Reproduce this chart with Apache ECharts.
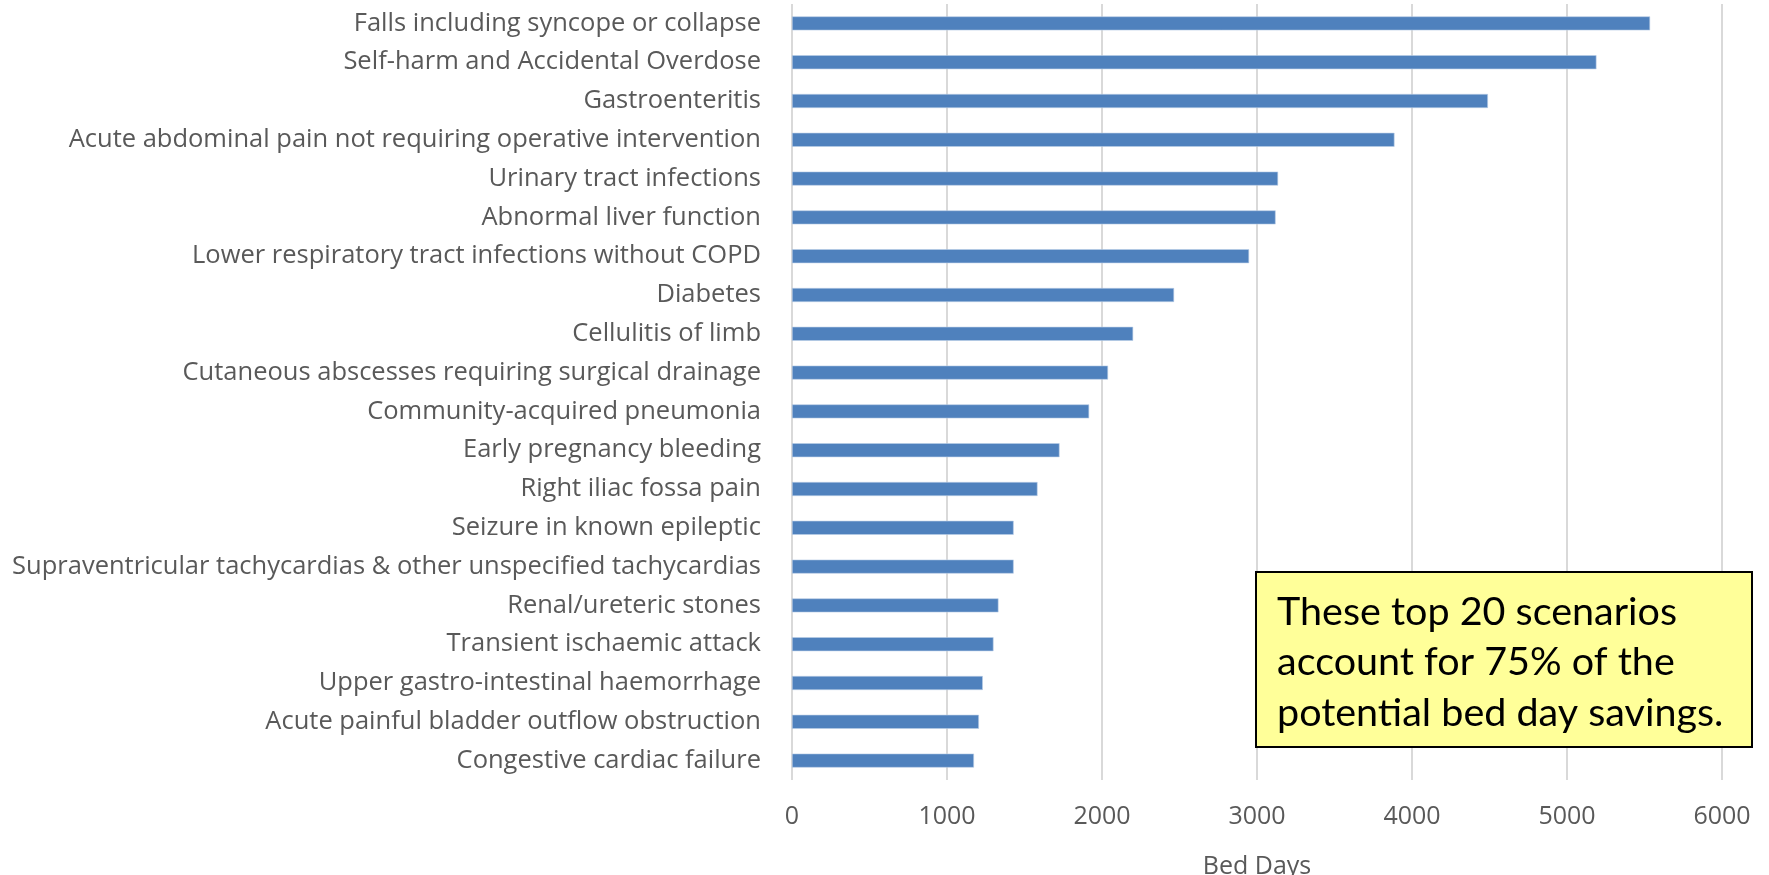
<!DOCTYPE html>
<html>
<head>
<meta charset="utf-8">
<title>Potential bed day savings by scenario</title>
<script src="https://cdn.jsdelivr.net/npm/echarts@6/dist/echarts.min.js"></script>
<style>
  html, body { margin: 0; padding: 0; background: #ffffff; }
  #chart { width: 1769px; height: 875px; }
</style>
</head>
<body>
<div id="chart"></div>
<script>
// Scenarios, listed from largest to smallest saving
const scenarios = [
  'Falls including syncope or collapse',
  'Self-harm and Accidental Overdose',
  'Gastroenteritis',
  'Acute abdominal pain not requiring operative intervention',
  'Urinary tract infections',
  'Abnormal liver function',
  'Lower respiratory tract infections without COPD',
  'Diabetes',
  'Cellulitis of limb',
  'Cutaneous abscesses requiring surgical drainage',
  'Community-acquired pneumonia',
  'Early pregnancy bleeding',
  'Right iliac fossa pain',
  'Seizure in known epileptic',
  'Supraventricular tachycardias & other unspecified tachycardias',
  'Renal/ureteric stones',
  'Transient ischaemic attack',
  'Upper gastro-intestinal haemorrhage',
  'Acute painful bladder outflow obstruction',
  'Congestive cardiac failure'
];

// Potential bed days saved per scenario
const bedDays = [
  5536, 5190, 4490, 3887, 3136, 3120, 2949, 2465, 2201, 2039,
  1917, 1726, 1584, 1430, 1430, 1332, 1300, 1231, 1206, 1174
];

// Value axis ticks
const axisMin = 0;
const axisMax = 6000;
const axisStep = 1000;

const axisTitle = 'Bed Days';
const noteLines = [
  'These top 20 scenarios',
  'account for 75% of the',
  'potential bed day savings.'
];

const labelFont = '"Open Sans", "DejaVu Sans", sans-serif';
const greyText = '#595959';

const chart = echarts.init(document.getElementById('chart'), null, { renderer: 'canvas' });

chart.setOption({
  animation: false,
  backgroundColor: '#ffffff',
  grid: {
    left: 792,
    right: 47,
    top: 4,
    bottom: 95,
    containLabel: false,
    outerBoundsMode: 'none'
  },
  xAxis: {
    type: 'value',
    min: axisMin,
    max: axisMax,
    interval: axisStep,
    name: axisTitle,
    nameLocation: 'middle',
    nameGap: 74,
    nameTextStyle: {
      color: greyText,
      fontFamily: labelFont,
      fontSize: 25
    },
    axisLine: { show: false },
    axisTick: { show: false },
    axisLabel: {
      color: greyText,
      fontFamily: labelFont,
      fontSize: 25,
      margin: 24,
      formatter: (v) => String(v)
    },
    splitLine: {
      show: true,
      lineStyle: { color: '#d9d9d9', width: 2 }
    }
  },
  yAxis: {
    type: 'category',
    data: scenarios,
    inverse: true,
    axisLine: { show: false },
    axisTick: { show: false },
    axisLabel: {
      color: greyText,
      fontFamily: labelFont,
      fontSize: 25.5,
      margin: 31
    },
    splitLine: { show: false }
  },
  series: [{
    type: 'bar',
    data: bedDays,
    barWidth: 14,
    itemStyle: {
      color: '#4f81bd',
      borderColor: '#b9cde5',
      borderWidth: 0.6
    }
  }],
  graphic: [{
    type: 'group',
    left: 1255,
    top: 571,
    z: 100,
    children: [{
      type: 'rect',
      z: 100,
      shape: { x: 0, y: 0, width: 496, height: 175 },
      style: { fill: '#ffff99', stroke: '#000000', lineWidth: 2 }
    }, {
      type: 'text',
      z: 101,
      x: 21,
      y: 15,
      style: {
        text: noteLines.join('\n'),
        fill: '#000000',
        font: '39.5px Lato, "Open Sans", sans-serif',
        lineHeight: 50.5,
        verticalAlign: 'top'
      }
    }]
  }]
});
</script>
</body>
</html>
